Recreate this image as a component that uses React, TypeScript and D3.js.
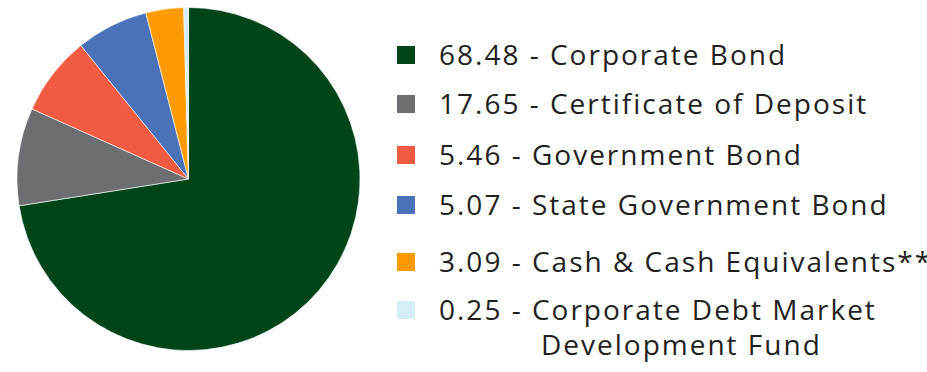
import React from "react";
import * as d3 from "d3";

const categories = [
  "Corporate Bond",
  "Certificate of Deposit",
  "Government Bond",
  "State Government Bond",
  "Cash & Cash Equivalents**",
  "Corporate Debt Market Development Fund",
];
const legendValues = ["68.48", "17.65", "5.46", "5.07", "3.09", "0.25"];
// slice sizes as drawn in the picture (degrees-derived shares)
const pieShares = [72.5, 9.2, 7.5, 6.8, 3.55, 0.45];
const colors = ["#00451a", "#6d6e71", "#f15b42", "#4a72b8", "#ff9b00", "#d5eef6"];

const W = 927;
const H = 372;
const cx = 188.5;
const cy = 179;
const R = 171.5;

export default function App() {
  const pie = d3
    .pie<number>()
    .sort(null)
    .value((d) => d)(pieShares);
  const arc = d3.arc<d3.PieArcDatum<number>>().innerRadius(0).outerRadius(R);

  const rows: { text: string; x: number; y: number; sq: number | null }[] = [
    { text: `${legendValues[0]} - ${categories[0]}`, x: 439, y: 65, sq: 0 },
    { text: `${legendValues[1]} - ${categories[1]}`, x: 439, y: 114, sq: 1 },
    { text: `${legendValues[2]} - ${categories[2]}`, x: 439, y: 165, sq: 2 },
    { text: `${legendValues[3]} - ${categories[3]}`, x: 439, y: 215, sq: 3 },
    { text: `${legendValues[4]} - ${categories[4]}`, x: 439, y: 272, sq: 4 },
    { text: `${legendValues[5]} - Corporate Debt Market`, x: 439, y: 320, sq: 5 },
    { text: `Development Fund`, x: 541, y: 355, sq: null },
  ];

  return (
    <svg
      width={W}
      height={H}
      style={{ position: "absolute", left: 0, top: 0, background: "#fff" }}
    >
      <g transform={`translate(${cx},${cy})`}>
        {pie.map((p, i) => (
          <path key={i} d={arc(p) || ""} fill={colors[i]} stroke="#fff" strokeWidth={0.6} />
        ))}
      </g>
      {rows.map((r, i) => (
        <g key={i}>
          {r.sq !== null && (
            <rect x={397} y={r.y - 19} width={18} height={18} fill={colors[r.sq]} />
          )}
          <text
            x={r.x}
            y={r.y}
            fontFamily="'Open Sans', sans-serif"
            fontSize={28}
            letterSpacing={2}
            fill="#231f20"
          >
            {r.text}
          </text>
        </g>
      ))}
    </svg>
  );
}
